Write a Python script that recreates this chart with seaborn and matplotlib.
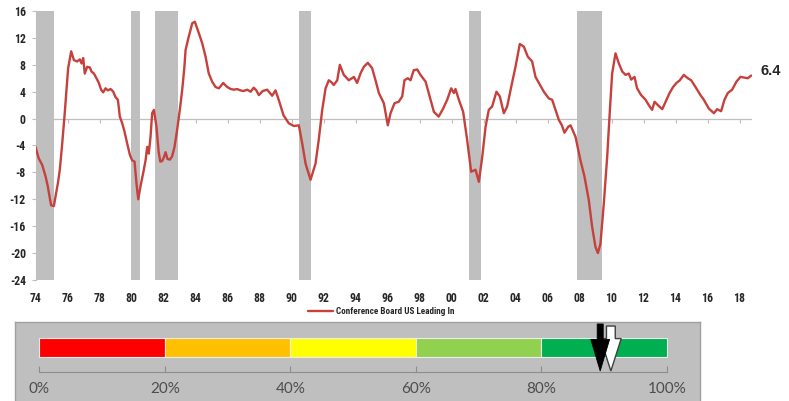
import numpy as np
import pandas as pd
import matplotlib
matplotlib.use("Agg")
import matplotlib.pyplot as plt
from matplotlib import font_manager
import seaborn as sns

# Conference Board US Leading Index, year-over-year % change
years = [
    1974.00, 1974.20, 1974.42, 1974.63, 1974.77, 1974.90, 1974.98, 1975.15, 1975.25, 1975.40,
    1975.52, 1975.67, 1975.81, 1975.94, 1976.04, 1976.23, 1976.40, 1976.60, 1976.77, 1976.88,
    1976.98, 1977.08, 1977.23, 1977.40, 1977.50, 1977.65, 1977.81, 1977.96, 1978.10, 1978.23,
    1978.38, 1978.52, 1978.69, 1978.86, 1979.00, 1979.15, 1979.27, 1979.42, 1979.56, 1979.73,
    1979.90, 1980.04, 1980.19, 1980.31, 1980.42, 1980.56, 1980.73, 1980.88, 1980.98, 1981.08,
    1981.19, 1981.29, 1981.40, 1981.56, 1981.70, 1981.80, 1981.92, 1982.05, 1982.13, 1982.25,
    1982.40, 1982.54, 1982.69, 1982.85, 1983.02, 1983.17, 1983.30, 1983.38, 1983.58, 1983.80,
    1983.96, 1984.21, 1984.42, 1984.63, 1984.83, 1985.04, 1985.25, 1985.46, 1985.73, 1985.98,
    1986.20, 1986.40, 1986.60, 1986.80, 1987.00, 1987.23, 1987.45, 1987.64, 1987.80, 1987.96,
    1988.20, 1988.48, 1988.65, 1988.79, 1989.00, 1989.20, 1989.50, 1989.83, 1990.15, 1990.46,
    1990.67, 1990.88, 1991.19, 1991.50, 1991.70, 1991.92, 1992.13, 1992.33, 1992.50, 1992.64,
    1992.86, 1993.02, 1993.27, 1993.58, 1993.90, 1994.10, 1994.31, 1994.52, 1994.77, 1995.04,
    1995.25, 1995.46, 1995.77, 1996.02, 1996.19, 1996.44, 1996.70, 1996.92, 1997.06, 1997.27,
    1997.44, 1997.64, 1997.86, 1998.06, 1998.38, 1998.69, 1998.90, 1999.20, 1999.48, 1999.73,
    1999.98, 2000.15, 2000.25, 2000.46, 2000.73, 2000.98, 2001.23, 2001.50, 2001.71, 2001.92,
    2002.13, 2002.33, 2002.54, 2002.81, 2003.02, 2003.27, 2003.48, 2003.73, 2004.00, 2004.27,
    2004.52, 2004.77, 2005.04, 2005.25, 2005.46, 2005.77, 2006.08, 2006.29, 2006.50, 2006.71,
    2006.90, 2007.06, 2007.30, 2007.44, 2007.75, 2008.06, 2008.31, 2008.58, 2008.79, 2009.00,
    2009.15, 2009.31, 2009.52, 2009.73, 2009.90, 2010.04, 2010.25, 2010.46, 2010.67, 2010.88,
    2011.08, 2011.23, 2011.44, 2011.60, 2011.85, 2012.13, 2012.33, 2012.54, 2012.69, 2012.90,
    2013.17, 2013.38, 2013.63, 2013.85, 2014.06, 2014.27, 2014.52, 2014.77, 2014.98, 2015.25,
    2015.56, 2015.77, 2016.08, 2016.40, 2016.60, 2016.85, 2017.06, 2017.27, 2017.54, 2017.81,
    2018.06, 2018.31, 2018.52, 2018.73,
]
lei_yoy = [
    -4.2, -5.9, -6.9, -8.6, -10.1, -11.9, -12.9, -13.0, -11.6, -9.6,
    -7.6, -3.7, 0.3, 4.3, 7.5, 10.0, 8.7, 8.5, 8.8, 8.2,
    9.0, 6.7, 7.7, 7.6, 7.0, 6.7, 6.0, 5.3, 4.3, 3.9,
    4.5, 4.2, 4.4, 4.0, 3.2, 2.8, 0.3, -0.7, -1.9, -3.7,
    -5.4, -6.2, -6.4, -9.6, -12.0, -10.1, -8.1, -6.2, -4.2, -5.2,
    -2.7, 0.8, 1.3, -1.2, -5.0, -6.4, -6.3, -5.6, -5.0, -6.0,
    -6.1, -5.6, -4.2, -1.7, 1.3, 4.3, 7.5, 10.2, 12.2, 14.2,
    14.4, 12.7, 11.2, 9.2, 6.7, 5.5, 4.7, 4.5, 5.3, 4.7,
    4.4, 4.3, 4.4, 4.2, 4.1, 4.3, 4.0, 4.6, 4.2, 3.5,
    4.1, 4.3, 3.8, 3.4, 4.2, 2.8, 0.5, -0.7, -1.1, -1.0,
    -3.7, -6.7, -9.1, -6.7, -3.2, 1.3, 4.5, 5.7, 5.4, 5.0,
    5.7, 8.0, 6.5, 5.7, 6.2, 5.3, 6.7, 7.7, 8.3, 7.5,
    5.7, 3.8, 2.3, -1.0, 0.8, 2.3, 2.5, 3.3, 5.7, 6.0,
    5.7, 7.2, 7.3, 6.5, 5.5, 2.8, 1.0, 0.3, 1.5, 2.8,
    4.5, 3.8, 4.4, 2.8, 1.0, -3.2, -7.9, -7.6, -9.4, -5.7,
    -1.2, 1.3, 1.8, 4.0, 3.3, 0.8, 1.8, 4.7, 7.7, 11.1,
    10.7, 9.2, 8.5, 6.2, 5.3, 4.0, 3.0, 2.8, 1.3, -0.2,
    -1.0, -2.1, -1.2, -1.0, -2.7, -6.2, -8.6, -12.1, -16.1, -19.1,
    -20.0, -18.6, -12.6, -5.7, 1.3, 6.7, 9.7, 8.2, 7.0, 6.5,
    6.7, 5.8, 6.2, 4.5, 3.5, 2.8, 2.0, 1.3, 2.5, 2.0,
    1.4, 2.5, 3.8, 4.7, 5.3, 5.7, 6.5, 6.0, 5.7, 4.7,
    3.5, 2.8, 1.5, 0.8, 1.4, 1.1, 2.8, 3.8, 4.3, 5.5,
    6.2, 6.1, 6.0, 6.4,
]
series_label = "Conference Board US Leading In"

# US recessions (shaded)
recession_starts = [1973.90, 1979.97, 1981.49, 1990.47, 2001.10, 2007.84]
recession_ends = [1975.18, 1980.55, 1982.89, 1991.20, 2001.84, 2009.40]

x_tick_years = list(range(1974, 2019, 2))
y_ticks = list(range(-24, 17, 4))

# Cycle gauge
band_starts = [0, 20, 40, 60, 80]
band_widths = [20, 20, 20, 20, 20]
band_colors = ["#FF0000", "#FFC000", "#FFFF00", "#92D050", "#00B050"]
gauge_ticks = [0, 20, 40, 60, 80, 100]
current_reading = 89.4
previous_reading = 91.1


def first_available(*names):
    installed = {f.name for f in font_manager.fontManager.ttflist}
    for n in names:
        if n in installed:
            return n
    return "DejaVu Sans"


narrow = first_available("Liberation Sans Narrow", "Roboto Condensed",
                         "DejaVu Sans Condensed", "Liberation Sans", "Arial")
narrow_is_condensed = narrow in ("Liberation Sans Narrow", "Roboto Condensed",
                                 "DejaVu Sans Condensed")

sns.set_theme(style="white")
plt.rcParams["font.family"] = [narrow, "DejaVu Sans"]
plt.rcParams["font.weight"] = "bold"

W, H = 789, 401
fig = plt.figure(figsize=(W / 100, H / 100), dpi=100)
fig.patch.set_facecolor("white")


def px_box(x0, y0, x1, y1):
    """Pixel box (left, top, right, bottom) -> figure-fraction rect."""
    return [x0 / W, 1 - y1 / H, (x1 - x0) / W, (y1 - y0) / H]


# ---- Leading index line chart ----
ax = fig.add_axes(px_box(35.5, 11, 752.3, 280))
for s, e in zip(recession_starts, recession_ends):
    ax.axvspan(s, e, color="#BFBFBF", lw=0, zorder=0)

df = pd.DataFrame({"year": years, "value": lei_yoy})
sns.lineplot(data=df, x="year", y="value", ax=ax, estimator=None,
             color="#C6403C", lw=1.7, label=series_label, zorder=3)
line = ax.lines[0]
ax.get_legend().remove()

ax.axhline(0, color="#BFBFBF", lw=0.9, zorder=1)
ax.plot(x_tick_years, np.zeros(len(x_tick_years)), ls="none", marker=3,
        ms=3, mew=0.8, color="#BFBFBF", zorder=1)

tick_size = 8.5 if narrow_is_condensed else 7.5
ax.set_xlim(1974.0, 2018.8)
ax.set_ylim(y_ticks[0], y_ticks[-1])
ax.set_yticks(y_ticks)
ax.set_yticklabels([str(v) for v in y_ticks])
ax.set_xticks(x_tick_years)
ax.set_xticklabels([f"{y % 100:02d}" for y in x_tick_years])
ax.set_xlabel("")
ax.set_ylabel("")
for side in ("top", "right", "bottom"):
    ax.spines[side].set_visible(False)
ax.spines["left"].set_color("#BFBFBF")
ax.spines["left"].set_linewidth(0.8)
ax.tick_params(axis="y", left=True, length=3, width=0.8, color="#BFBFBF",
               pad=4, labelsize=tick_size, labelcolor="#262626")
ax.tick_params(axis="x", bottom=False, length=0, pad=9, labelsize=tick_size,
               labelcolor="#262626")
ax.grid(False)

ax.annotate(f"{lei_yoy[-1]:.1f}", xy=(years[-1], lei_yoy[-1]),
            xytext=(7, 3), textcoords="offset points", ha="left", va="center",
            fontsize=10.5, fontweight="bold", family=["Liberation Sans", "DejaVu Sans"],
            color="#262626", annotation_clip=False)

fig.legend(handles=[line], labels=[series_label], loc="center",
           bbox_to_anchor=(381 / W, 1 - 312 / H), frameon=False,
           fontsize=6.6 if narrow_is_condensed else 6,
           handlelength=2.7, handletextpad=0.35, labelcolor="#262626")

# ---- Cycle gauge ----
gx0, gx1 = 15, 700
zero_px, hundred_px = 39.3, 666.7
pct_px = (hundred_px - zero_px) / 100
gax = fig.add_axes(px_box(gx0, 322, gx1, 401))
gax.set_facecolor("#BFBFBF")
gax.set_xlim((gx0 - zero_px) / pct_px, (gx1 - zero_px) / pct_px)
gax.set_ylim(0, 1)

gax.barh(y=0.677, width=band_widths, left=band_starts, height=0.248,
         color=band_colors, edgecolor="#EDEDED", linewidth=0.8, zorder=2)

for side in ("top", "left", "right"):
    gax.spines[side].set_color("#A0A0A0")
    gax.spines[side].set_linewidth(1.0)
gax.spines["bottom"].set_position(("axes", 0.367))
gax.spines["bottom"].set_bounds(gauge_ticks[0], gauge_ticks[-1])
gax.spines["bottom"].set_color("#8C8C8C")
gax.spines["bottom"].set_linewidth(0.8)
gax.set_yticks([])
gax.set_xticks(gauge_ticks)
gax.set_xticklabels([f"{t}%" for t in gauge_ticks], fontweight="normal",
                    family=["Lato", "DejaVu Sans"])
gax.tick_params(axis="x", bottom=True, direction="in", length=4, width=0.8,
                color="#8C8C8C", pad=7, labelsize=11, labelcolor="#4D4D4D")

gax.arrow(previous_reading, 0.949, 0, -(0.949 - 0.38), width=1.4,
          head_width=3.3, head_length=0.41, length_includes_head=True,
          fc="white", ec="#404040", lw=1.0, zorder=4)
gax.arrow(current_reading, 0.975, 0, -(0.975 - 0.38), width=0.96,
          head_width=3.0, head_length=0.40, length_includes_head=True,
          fc="black", ec="black", lw=0.6, zorder=5)

fig.savefig("out.png", dpi=100)
